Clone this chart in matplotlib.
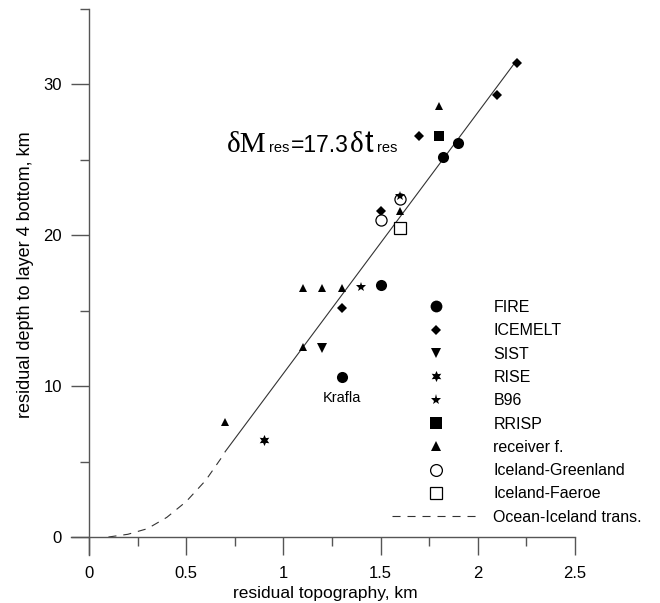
import matplotlib
matplotlib.use("Agg")
import matplotlib.pyplot as plt
from matplotlib.lines import Line2D
from matplotlib.ticker import MultipleLocator, FuncFormatter
from matplotlib import font_manager as fm

plt.rcParams['font.family'] = ['Liberation Sans', 'DejaVu Sans']
plt.rcParams['lines.scale_dashes'] = False
names = {f.name for f in fm.fontManager.ttflist}
NARROW = 'Liberation Sans Narrow' if 'Liberation Sans Narrow' in names else None

# ---------------- data ----------------
fire_x = [1.5, 1.3, 1.82, 1.9]
fire_y = [16.7, 10.6, 25.2, 26.1]
icemelt_x = [2.2, 2.1, 1.7, 1.5, 1.3]
icemelt_y = [31.4, 29.3, 26.6, 21.6, 15.2]
sist_x = [1.2]
sist_y = [12.5]
rise_x = [0.9]
rise_y = [6.45]
b96_x = [1.4, 1.6]
b96_y = [16.6, 22.6]
rrisp_x = [1.8]
rrisp_y = [26.6]
recv_x = [1.8, 1.6, 1.1, 1.2, 1.3, 1.1, 0.7]
recv_y = [28.6, 21.6, 16.5, 16.5, 16.5, 12.6, 7.6]
igr_x = [1.5, 1.6]
igr_y = [21.0, 22.4]
ifa_x = [1.6]
ifa_y = [20.5]
# fitted line  dM = 17.3 dt (offset)
fit_x = [0.7, 2.2]
fit_y = [5.65, 31.6]
# ocean-iceland transition curve
trans_x = [0.1, 0.2, 0.3, 0.4, 0.5, 0.6, 0.7]
trans_y = [0.0, 0.18, 0.55, 1.3, 2.35, 3.75, 5.6]

xticks = [0, 0.5, 1, 1.5, 2, 2.5]
yticks = [0, 10, 20, 30]

# ---------------- figure ----------------
W, H = 660, 603
fig = plt.figure(figsize=(W / 100, H / 100), dpi=100)
ax = fig.add_axes([71 / W, 1 - 555 / H, 504 / W, 546 / H])
ax.set_xlim(-0.0926, 2.5)
ax.set_ylim(-1.193, 35)

spc = '#555555'
for s in ['top', 'right']:
    ax.spines[s].set_visible(False)
ax.spines['left'].set_position(('data', 0))
ax.spines['bottom'].set_position(('data', 0))
for s in ['left', 'bottom']:
    ax.spines[s].set_color(spc)
    ax.spines[s].set_linewidth(1.0)

ax.set_xticks(xticks)
ax.set_yticks(yticks)
ax.xaxis.set_minor_locator(MultipleLocator(0.25))
ax.yaxis.set_minor_locator(MultipleLocator(5))
ax.xaxis.set_major_formatter(FuncFormatter(lambda v, p: f"{v:g}"))
ax.tick_params(which='major', direction='out', length=13, width=1.0, color=spc, labelsize=12)
ax.tick_params(which='minor', direction='out', length=6.8, width=1.0, color=spc)
ax.tick_params(axis='y', which='major', pad=6.5)
ax.tick_params(axis='x', which='major', pad=8)

ax.set_xlabel('residual topography, km', fontsize=12.5)
ax.set_ylabel('residual depth to layer 4 bottom, km', fontsize=13)
ax.xaxis.set_label_coords(0.505, -0.057)
ax.yaxis.set_label_coords(-0.074, 0.514)

lc = '#333333'
ax.plot(fit_x, fit_y, color=lc, lw=0.8, zorder=2)
ax.plot(trans_x, trans_y, color=lc, lw=0.8, ls=(0, (5.8, 5.0)), zorder=2)

k = 'black'
ax.plot(fire_x, fire_y, ls='none', marker='o', ms=8, color=k, mew=0, zorder=3)
ax.plot(icemelt_x, icemelt_y, ls='none', marker='D', ms=5.0, color=k, mew=0, zorder=3)
ax.plot(sist_x, sist_y, ls='none', marker='v', ms=6.5, color=k, mew=0, zorder=3)
ax.plot(rise_x, rise_y, ls='none', marker=(6, 1, 0), ms=8, color=k, mew=0, zorder=3)
ax.plot(b96_x, b96_y, ls='none', marker='*', ms=7.5, color=k, mew=0, zorder=4)
ax.plot(rrisp_x, rrisp_y, ls='none', marker='s', ms=6.5, color=k, mew=0, zorder=3)
ax.plot(recv_x, recv_y, ls='none', marker='^', ms=6.0, color=k, mew=0, zorder=3)
ax.plot(igr_x, igr_y, ls='none', marker='o', ms=8, mfc='white', mec=k, mew=0.9, zorder=3)
ax.plot(ifa_x, ifa_y, ls='none', marker='s', ms=8.5, mfc='white', mec=k, mew=0.9, zorder=3)

ax.text(1.3, 9.2, 'Krafla', ha='center', va='center', fontsize=10.5)

# equation text built from pieces
base_y = 25.54
t1 = ax.text(0.708, base_y, '\u03b4M', ha='left', va='baseline', fontsize=21,
             family=['Liberation Serif', 'DejaVu Serif'])

def chain(prev, s, gap_px, **kw):
    return ax.annotate(s, xy=(1, base_y), xycoords=(prev, 'data'),
                       xytext=(gap_px * 0.72, 0), textcoords='offset points',
                       ha='left', va='baseline', **kw)

t2 = chain(t1, 'res', 3, fontsize=10.5)
if NARROW:
    t3 = chain(t2, '=17.3', 1, fontsize=19, family=[NARROW, 'Liberation Sans'])
else:
    t3 = chain(t2, '=17.3', 1, fontsize=16.5)
t4 = chain(t3, '\u03b4', 1, fontsize=21, family=['Liberation Serif', 'DejaVu Serif'])
if NARROW:
    t5 = chain(t4, 't', 1, fontsize=24, family=[NARROW, 'Liberation Sans'])
else:
    t5 = chain(t4, 't', 1, fontsize=22, family=['Liberation Sans'])
t6 = chain(t5, 'res', 4, fontsize=10.5)

# legend
handles = [
    Line2D([], [], ls='none', marker='o', ms=8.5, color=k, mew=0),
    Line2D([], [], ls='none', marker='D', ms=5.5, color=k, mew=0),
    Line2D([], [], ls='none', marker='v', ms=7.5, color=k, mew=0),
    Line2D([], [], ls='none', marker=(6, 1, 0), ms=8, color=k, mew=0),
    Line2D([], [], ls='none', marker='*', ms=8, color=k, mew=0),
    Line2D([], [], ls='none', marker='s', ms=8, color=k, mew=0),
    Line2D([], [], ls='none', marker='^', ms=7, color=k, mew=0),
    Line2D([], [], ls='none', marker='o', ms=8.5, mfc='white', mec=k, mew=0.9),
    Line2D([], [], ls='none', marker='s', ms=8.5, mfc='white', mec=k, mew=0.9),
    Line2D([], [], color=lc, lw=0.8, ls=(0, (5.8, 5.0))),
]
labels = ['FIRE', 'ICEMELT', 'SIST', 'RISE', 'B96', 'RRISP', 'receiver f.',
          'Iceland-Greenland', 'Iceland-Faeroe', 'Ocean-Iceland trans.']
ax.legend(handles, labels, loc='upper left', bbox_to_anchor=(392 / W, 1 - 300 / H),
          bbox_transform=fig.transFigure, frameon=False, fontsize=11.5,
          borderpad=0, borderaxespad=0, handlelength=5.5, handletextpad=0.85,
          labelspacing=0.52, numpoints=1)

fig.savefig('out.png', dpi=100)
